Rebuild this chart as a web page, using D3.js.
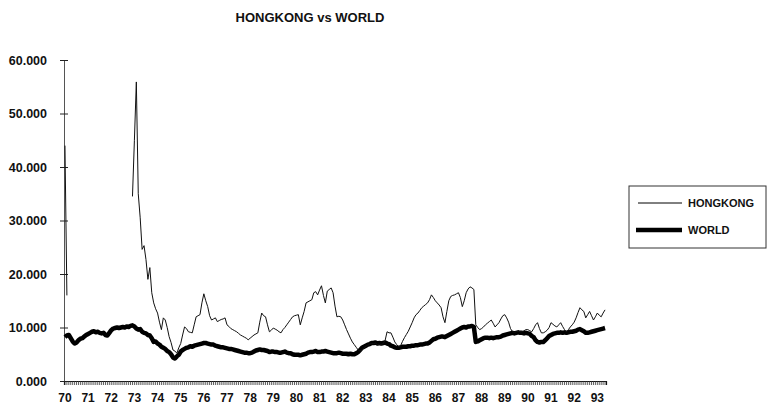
<!DOCTYPE html>
<html>
<head>
<meta charset="utf-8">
<script src="https://cdnjs.cloudflare.com/ajax/libs/d3/7.8.5/d3.min.js"></script>
<style>
body { margin: 0; background: #fff; }
.chart text { font-family: "Liberation Sans", Arial, sans-serif; fill: #111; }
</style>
</head>
<body>
<svg class="chart"></svg>
<script>
// one label per January, the series are monthly from Jan 70
var yearLabels = ["70","71","72","73","74","75","76","77","78","79","80","81",
                  "82","83","84","85","86","87","88","89","90","91","92","93"];

var yTicks = [0, 10, 20, 30, 40, 50, 60];

var seriesNames = ["HONGKONG", "WORLD"];

var hongkong = [
  44, 16, null, null, null, null, null, null, null, null, null, null,
  null, null, null, null, null, null, null, null, null, null, null, null,
  null, null, null, null, null, null, null, null, null, null, null, 34.5,
  45, 55.9, 35, 30.5, 24.6, 25.3, 22.7, 19.0, 21.2, 16.5, 14.6, 13.5,
  12.7, 11.0, 9.6, 11.8, 11.4, 10.0, 8.3, 7.2, 5.8, 5.6, 5.2, 6.2,
  7.0, 8.6, 10.1, 9.8, 9.2, 9.1, 9.0, 10.5, 12.0, 12.2, 12.4, 14.6,
  16.3, 15.0, 13.9, 12.2, 11.4, 11.6, 11.8, 11.1, 11.3, 11.5, 11.6, 11.8,
  10.5, 10.2, 9.8, 9.6, 9.4, 9.2, 8.9, 8.6, 8.4, 8.2, 8.0, 7.7,
  8.0, 8.3, 8.6, 8.8, 9.0, 11.0, 12.7, 12.2, 12.0, 10.5, 9.2, 9.5,
  9.9, 9.7, 9.5, 9.2, 9.0, 9.6, 10.0, 10.5, 11.0, 11.5, 12.0, 12.2,
  12.3, 12.4, 10.5, 11.8, 13.0, 14.6, 14.8, 15.0, 15.2, 16.5, 16.7, 16.1,
  17.0, 17.8, 16.0, 14.6, 16.8, 17.1, 17.4, 16.5, 14.0, 12.0, 12.1, 12.0,
  11.4, 10.5, 9.6, 8.8, 8.0, 7.3, 6.8, 6.3, 5.8, 5.6, 5.8, 6.2,
  6.5, 6.7, 6.9, 7.0, 7.0, 7.1, 6.8, 6.9, 6.8, 7.0, 7.6, 9.2,
  9.0, 9.0, 8.2, 7.3, 6.8, 6.4, 6.6, 7.4, 8.1, 8.7, 9.3, 10.1,
  10.9, 11.8, 12.4, 12.7, 13.2, 13.7, 14.0, 14.3, 14.6, 15.2, 16.1, 15.6,
  15.0, 14.6, 14.2, 13.7, 12.0, 10.9, 13.0, 15.0, 15.8, 16.0, 16.1, 16.3,
  16.5, 15.6, 13.9, 15.0, 16.5, 17.2, 17.6, 17.4, 17.1, 10.5, 10.0, 9.6,
  9.8, 10.1, 10.5, 10.8, 11.1, 11.4, 10.8, 10.1, 10.5, 10.9, 11.6, 12.2,
  12.4, 11.8, 11.0, 9.8, 9.2, 9.1, 9.2, 9.3, 9.2, 9.2, 9.4, 9.6,
  9.6, 9.4, 9.2, 9.8, 10.5, 10.9, 9.8, 9.0, 9.0, 9.2, 9.5, 10.0,
  10.9, 10.6, 10.3, 10.1, 10.5, 10.9, 10.2, 9.6, 9.2, 9.6, 10.1, 10.5,
  11.0, 11.8, 12.8, 13.7, 13.3, 13.0, 11.8, 12.4, 13.0, 12.2, 11.4, 12.0,
  12.7, 12.3, 12.0, 12.7, 13.3
];

var world = [
  8.2, 8.5, 8.6, 8.0, 7.4, 7.0, 7.2, 7.6, 7.9, 8.0, 8.3, 8.6,
  8.8, 9.0, 9.2, 9.3, 9.1, 9.2, 9.0, 8.9, 9.0, 8.6, 8.5, 9.0,
  9.5, 9.8, 9.9, 10.0, 9.9, 10.0, 10.1, 10.0, 10.2, 10.1, 10.3, 10.4,
  10.2, 9.8, 9.6, 9.7, 9.2, 9.0, 8.9, 8.6, 8.5, 8.0, 7.3, 7.4,
  7.0, 6.8, 6.4, 6.2, 6.0, 5.6, 5.4, 5.0, 4.4, 4.2, 4.6, 4.9,
  5.5, 5.8, 6.0, 6.2, 6.3, 6.5, 6.4, 6.6, 6.7, 6.8, 6.9, 7.0,
  7.1, 7.1, 7.0, 6.9, 6.8, 6.8, 6.6, 6.5, 6.4, 6.3, 6.3, 6.2,
  6.1, 6.0, 6.0, 5.9, 5.8, 5.7, 5.6, 5.5, 5.4, 5.3, 5.3, 5.2,
  5.2, 5.3, 5.5, 5.7, 5.8, 5.9, 5.8, 5.8, 5.7, 5.6, 5.4, 5.5,
  5.5, 5.4, 5.4, 5.3, 5.3, 5.4, 5.5, 5.3, 5.2, 5.2, 5.0, 4.9,
  4.9, 4.9, 4.8, 4.9, 5.0, 5.1, 5.3, 5.4, 5.4, 5.5, 5.6, 5.4,
  5.4, 5.5, 5.5, 5.6, 5.5, 5.4, 5.3, 5.2, 5.2, 5.2, 5.3, 5.2,
  5.1, 5.1, 5.1, 5.0, 5.1, 5.0, 5.0, 5.2, 5.4, 5.8, 6.2, 6.4,
  6.6, 6.8, 6.9, 7.1, 7.1, 7.2, 7.0, 7.1, 7.0, 7.1, 7.2, 7.0,
  6.9, 6.6, 6.5, 6.3, 6.2, 6.2, 6.3, 6.4, 6.4, 6.4, 6.5, 6.5,
  6.6, 6.6, 6.7, 6.7, 6.8, 6.8, 6.9, 7.0, 7.0, 7.2, 7.5, 7.8,
  7.9, 8.1, 8.2, 8.3, 8.3, 8.2, 8.4, 8.6, 8.8, 9.0, 9.2, 9.4,
  9.6, 9.8, 10.0, 10.1, 10.0, 10.2, 10.2, 10.3, 10.1, 7.3, 7.4, 7.6,
  7.8, 8.0, 8.1, 8.1, 8.0, 8.1, 8.0, 8.1, 8.2, 8.2, 8.3, 8.5,
  8.6, 8.7, 8.8, 8.9, 9.0, 8.9, 9.0, 9.1, 9.0, 9.0, 8.9, 9.0,
  8.9, 8.8, 8.4, 8.2, 7.6, 7.3, 7.2, 7.3, 7.3, 7.6, 8.0, 8.4,
  8.6, 8.8, 8.9, 9.0, 9.0, 9.1, 9.0, 9.1, 9.0, 9.1, 9.2, 9.2,
  9.3, 9.4, 9.6, 9.7, 9.5, 9.3, 9.0, 9.0, 9.1, 9.2, 9.3, 9.4,
  9.5, 9.6, 9.7, 9.8, 9.9
];

var margin = {top: 60, right: 164, bottom: 34, left: 64},
    width = 770 - margin.left - margin.right,
    height = 415 - margin.top - margin.bottom;

var svg = d3.select(".chart")
    .attr("width", 770)
    .attr("height", 415);

var chart = svg.append("g")
    .attr("transform", "translate(" + margin.left + "," + margin.top + ")");

var x = d3.scaleBand()
    .domain(d3.range(world.length))
    .range([0, width]);

var y = d3.scaleLinear()
    .domain([0, 60])
    .range([height, 0]);

var xm = function(i) { return x(i) + x.bandwidth() / 2; };

// title
svg.append("text")
    .attr("x", 310)
    .attr("y", 22)
    .attr("text-anchor", "middle")
    .style("font-size", "13px")
    .style("font-weight", "bold")
    .text("HONGKONG vs WORLD");

// y axis: ticks cross the line
var yAxis = d3.axisLeft(y)
    .tickValues(yTicks)
    .tickSize(0)
    .tickFormat(d3.format(".3f"));

var gy = chart.append("g")
    .attr("class", "y axis")
    .call(yAxis);

gy.select(".domain").attr("stroke", "#555").attr("stroke-width", 1);
gy.selectAll(".tick line")
    .attr("x1", -4).attr("x2", 4)
    .attr("stroke", "#222");
gy.selectAll(".tick text")
    .attr("x", -17)
    .style("font-size", "12.5px")
    .style("font-weight", "bold")
    .style("font-family", "'Liberation Sans', Arial, sans-serif");

// x axis: a tick for every month, a label every january
var xAxis = d3.axisBottom(x)
    .tickSize(4)
    .tickFormat(function(d) { return d % 12 == 0 ? yearLabels[d / 12] : ""; });

var gx = chart.append("g")
    .attr("class", "x axis")
    .attr("transform", "translate(0," + height + ")")
    .call(xAxis);

gx.select(".domain").attr("stroke", "#111").attr("stroke-width", 1.2);
gx.selectAll(".tick line").attr("stroke", "#333").attr("stroke-width", 0.8);
gx.selectAll(".tick text")
    .attr("y", 12)
    .style("font-size", "12px")
    .style("font-weight", "bold")
    .style("font-family", "'Liberation Sans', Arial, sans-serif");

var line = d3.line()
    .defined(function(d) { return d != null; })
    .x(function(d, i) { return xm(i); })
    .y(function(d) { return y(d); });

chart.append("path")
    .datum(world)
    .attr("fill", "none")
    .attr("stroke", "#000")
    .attr("stroke-width", 4.5)
    .attr("stroke-linejoin", "round")
    .attr("d", line);

chart.append("path")
    .datum(hongkong)
    .attr("fill", "none")
    .attr("stroke", "#111")
    .attr("stroke-width", 1)
    .attr("d", line);

// legend
var legend = svg.append("g")
    .attr("transform", "translate(629,186)");

legend.append("rect")
    .attr("width", 137)
    .attr("height", 62)
    .attr("fill", "none")
    .attr("stroke", "#333")
    .attr("stroke-width", 1);

var item = legend.selectAll(".item")
    .data(seriesNames)
    .enter().append("g")
      .attr("class", "item")
      .attr("transform", function(d, i) { return "translate(0," + (17 + i * 27) + ")"; });

item.append("line")
    .attr("x1", function(d, i) { return i ? 7 : 9; })
    .attr("x2", 53)
    .attr("stroke", "#000")
    .attr("stroke-width", function(d, i) { return i ? 4.5 : 1; });

item.append("text")
    .attr("x", 59)
    .attr("dy", "0.35em")
    .style("font-size", "11px")
    .style("font-weight", "bold")
    .text(function(d) { return d; });
</script>
</body>
</html>
